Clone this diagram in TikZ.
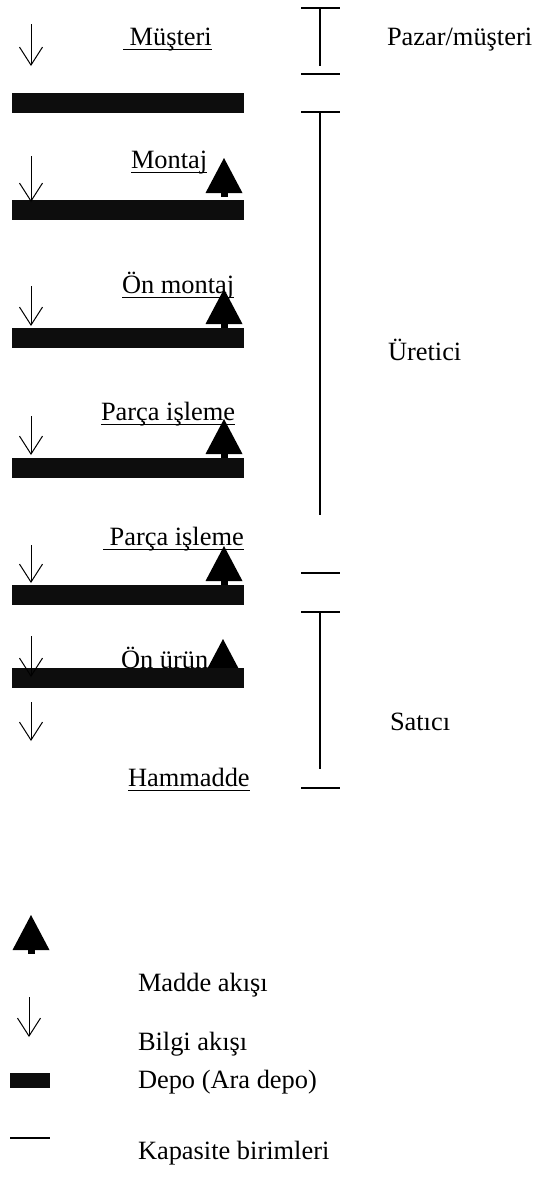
\documentclass[tikz,border=0pt]{standalone}
\usepackage{fontspec}
\setmainfont{Liberation Serif}
\usetikzlibrary{arrows.meta}

\tikzset{
  lbl/.style={anchor=base west, inner sep=0pt, outer sep=0pt,
              font=\fontsize{26.5}{30}\selectfont},
  store/.style={fill=black!95, draw=none, inner sep=0pt, outer sep=0pt,
                anchor=north west, minimum width=232bp, minimum height=20bp},
  infoflow/.style={line width=1bp,
                   -{Straight Barb[length=18bp,width=23bp,line width=1bp]}},
  uline/.style={line width=1.4bp},
  capline/.style={line width=1.5bp},
  matflow/.pic={
    \fill (-18.5,0) -- (0,-35) -- (18.5,0) -- cycle;
    \fill (-3.5,0) rectangle (3.5,3.5);
  }
}

\begin{document}
\begin{tikzpicture}[x=1bp, y=-1bp]
\useasboundingbox (0,0) rectangle (542,1177);

% ---------- material flow triangles (drawn under the stores) ----------
\pic at (224,193) {matflow};
\pic at (224,324) {matflow};
\pic at (224,454) {matflow};
\pic at (224,581) {matflow};
\pic at (223,674) {matflow};

% ---------- stores ----------
\node[store] (d1) at (12,93)  {};
\node[store] (d2) at (12,200) {};
\node[store] (d3) at (12,328) {};
\node[store] (d4) at (12,458) {};
\node[store] (d5) at (12,585) {};
\node[store] (d6) at (12,668) {};

% ---------- stage labels ----------
\node[lbl] (m1) at (123,45)  {\ Müşteri};
\node[lbl] (m2) at (131,168) {Montaj};
\node[lbl] (m3) at (122,293) {Ön montaj};
\node[lbl] (m4) at (101,420) {Parça işleme};
\node[lbl] (m5) at (103,545) {\ Parça işleme};
\node[lbl] (m6) at (121,668) {Ön ürün};
\node[lbl] (m7) at (128,786) {Hammadde};

\foreach \n in {m1,m2,m3,m4,m5,m7}
  \draw[uline] ([yshift=-4.5bp]\n.base west) -- ([yshift=-4.5bp]\n.base east);

% ---------- information flow arrows ----------
\foreach \i/\ys/\ye in {1/24/66, 2/156/202, 3/286/326, 4/416/455,
                        5/545/583, 6/636/677, 7/702/741} {
  \coordinate (i\i s) at (31,\ys);
  \coordinate (i\i e) at (31,\ye);
  \draw[infoflow] (i\i s) -- (i\i e);
}

% ---------- capacity units ----------
\coordinate (k1a) at (301,8);   \coordinate (k1b) at (340,8);
\coordinate (k2a) at (301,74);  \coordinate (k2b) at (340,74);
\coordinate (k3a) at (301,112); \coordinate (k3b) at (340,112);
\coordinate (k4a) at (301,573); \coordinate (k4b) at (340,573);
\coordinate (k5a) at (301,612); \coordinate (k5b) at (340,612);
\coordinate (k6a) at (301,788); \coordinate (k6b) at (340,788);
\foreach \k in {1,...,6}
  \draw[capline] (k\k a) -- (k\k b);

\coordinate (v1a) at (320,8);   \coordinate (v1b) at (320,66);
\coordinate (v2a) at (320,112); \coordinate (v2b) at (320,515);
\coordinate (v3a) at (320,612); \coordinate (v3b) at (320,769);
\foreach \v in {1,2,3}
  \draw[capline] (v\v a) -- (v\v b);

\node[lbl] (g1) at (387,45)  {Pazar/müşteri};
\node[lbl] (g2) at (388,360) {Üretici};
\node[lbl] (g3) at (390,730) {Satıcı};

% ---------- legend ----------
\pic at (31,950) {matflow};
\coordinate (li s) at (29,997);
\coordinate (li e) at (29,1037);
\draw[infoflow] (li s) -- (li e);
\node[store, minimum width=40bp, minimum height=15bp] (ld) at (10,1073) {};
\coordinate (lk a) at (10,1138);
\coordinate (lk b) at (50,1138);
\draw[capline] (lk a) -- (lk b);

\node[lbl] (t1) at (138,991)  {Madde akışı};
\node[lbl] (t2) at (138,1050) {Bilgi akışı};
\node[lbl] (t3) at (138,1088) {Depo (Ara depo)};
\node[lbl] (t4) at (138,1159) {Kapasite birimleri};
\end{tikzpicture}
\end{document}
